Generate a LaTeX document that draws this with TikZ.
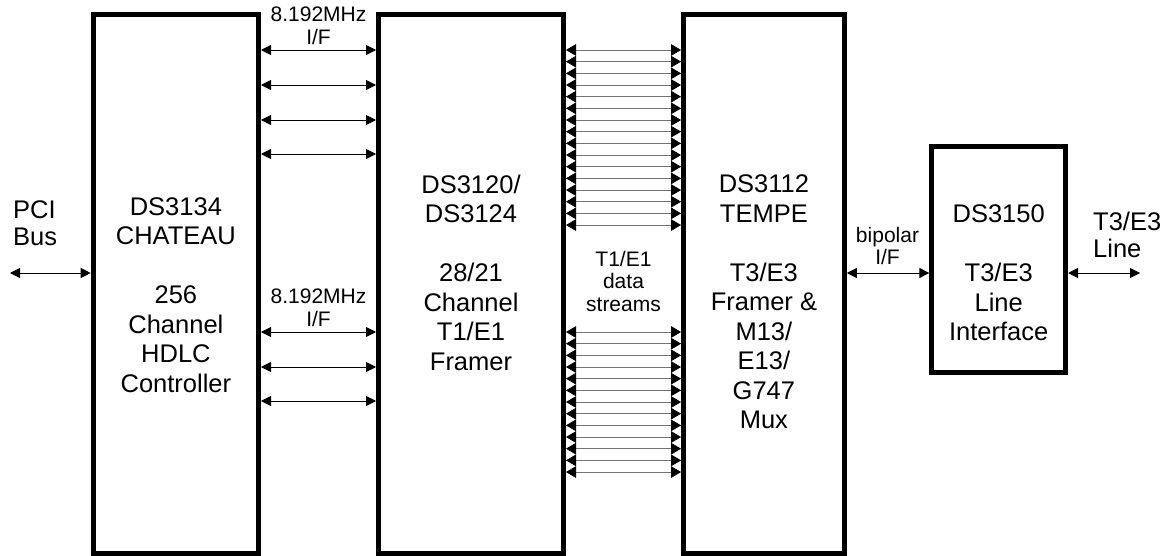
\documentclass[tikz,border=0pt]{standalone}
\usepackage{fontspec}
\setmainfont{Liberation Sans}
\usetikzlibrary{arrows.meta}
\begin{document}
\begin{tikzpicture}[x=1pt,y=-1pt,
  blk/.style={draw, line width=5pt, inner sep=0pt},
  big/.style={font=\fontsize{25.5}{29.5}\selectfont, align=center, inner sep=0pt},
  side/.style={font=\fontsize{25.5}{27}\selectfont, align=left, inner sep=0pt, anchor=west},
  small/.style={font=\fontsize{21}{22.5}\selectfont, align=center, inner sep=0pt},
  link/.style={line width=0.9pt, {Triangle[length=10pt,width=10pt]}-{Triangle[length=10pt,width=10pt]}},
  dlink/.style={line width=0.8pt, draw=black!55, {Triangle[length=10pt,width=11.6pt,color=black]}-{Triangle[length=10pt,width=11.6pt,color=black]}}]
\useasboundingbox (0,0) rectangle (1168,556);
% boxes
\node[blk, minimum width=165.3pt, minimum height=538.2pt] (b1) at (175.85,283.9) {};
\node[blk, minimum width=185pt, minimum height=538.2pt] (b2) at (471,283.9) {};
\node[blk, minimum width=160.7pt, minimum height=538.2pt] (b3) at (763.9,283.9) {};
\node[blk, minimum width=133.7pt, minimum height=225.5pt] (b4) at (998.7,259.3) {};
% box texts
\node[big] (t1) at (175.9,295) {DS3134\\CHATEAU\\[29.5pt]256\\Channel\\HDLC\\Controller};
\node[big] (t2) at (471,272.5) {DS3120/\\DS3124\\[29.5pt]28/21\\Channel\\T1/E1\\Framer};
\node[big] (t3) at (763.9,302) {DS3112\\TEMPE\\[29.5pt]T3/E3\\Framer \&\\M13/\\E13/\\G747\\Mux};
\node[big] (t4) at (998.7,273) {DS3150\\[29.5pt]T3/E3\\Line\\Interface};
% side labels
\node[side] (pcil) at (13,223.5) {PCI\\Bus};
\node[side] (t3l) at (1093,235) {T3/E3\\Line};
\coordinate (pci) at (10,273);
\coordinate (t3e) at (1140,273);
\draw[link] (pci) -- (b1.west |- pci);
\draw[link] (b4.east |- t3e) -- (t3e);
\coordinate (bp) at (0,273);
\draw[link] (b3.east |- bp) -- (b4.west |- bp);
\node[small] (bpl) at (887.5,246) {bipolar\\I/F};
% 8.192 MHz interfaces
\node[small] (ifa) at (318.5,26) {8.192MHz\\I/F};
\node[small] (ifb) at (318.5,308) {8.192MHz\\I/F};
\foreach \yy in {50,85,120,154,332,367,401} {
  \coordinate (c) at (0,\yy);
  \draw[link] (b1.east |- c) -- (b2.west |- c);
}
% data streams
\node[small] (dsl) at (623.5,281) {T1/E1\\data\\streams};
\foreach \k in {0,...,15} {
  \pgfmathsetmacro\yy{50+11.67*\k}
  \coordinate (c) at (0,\yy);
  \draw[dlink] (b2.east |- c) -- (b3.west |- c);
}
\foreach \k in {0,...,12} {
  \pgfmathsetmacro\yy{332+11.67*\k}
  \coordinate (c) at (0,\yy);
  \draw[dlink] (b2.east |- c) -- (b3.west |- c);
}
\end{tikzpicture}
\end{document}
